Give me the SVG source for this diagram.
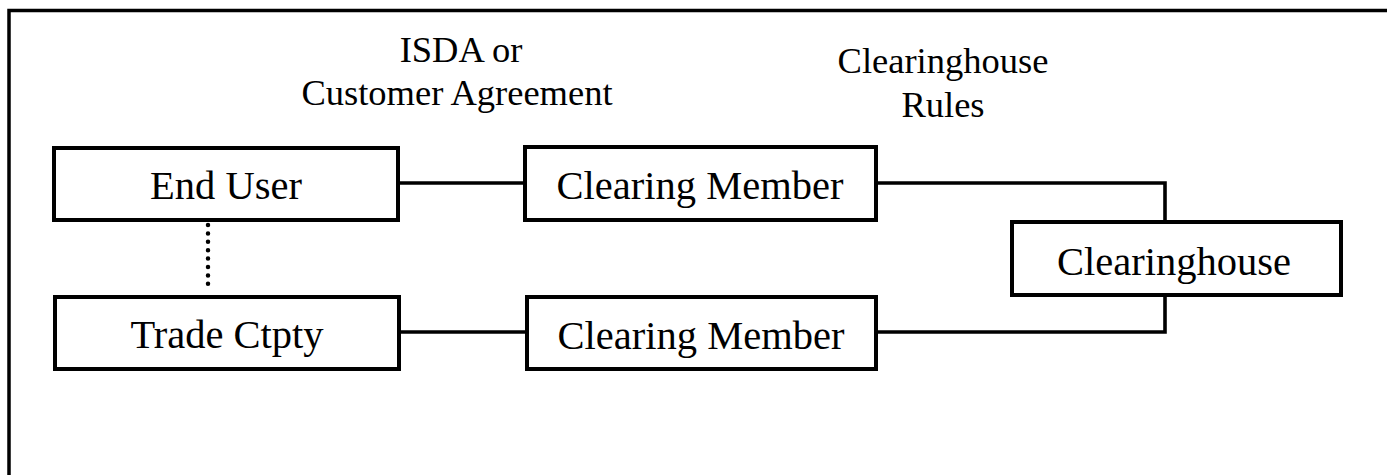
<svg xmlns="http://www.w3.org/2000/svg" width="1387" height="475" viewBox="0 0 1387 475">
<style>
.box{fill:#fff;stroke:#000;stroke-width:4}
.lbl{font-family:"Liberation Serif","Times New Roman",serif;font-size:40.5px;text-anchor:middle;fill:#000}
.note{font-family:"Liberation Serif","Times New Roman",serif;font-size:36.5px;text-anchor:middle;fill:#000}
.wire{fill:none;stroke:#000;stroke-width:3.6}
.dot{fill:none;stroke:#000;stroke-width:4.5;stroke-linecap:round;stroke-dasharray:0 8.4}
</style>
<rect width="1387" height="475" fill="#fff"/>
<g id="frame">
<path d="M9 475 V10.5 H1387" fill="none" stroke="#000" stroke-width="3.5"/>
</g>
<g id="notes">
<text class="note" x="461" y="62">ISDA or</text>
<text class="note" x="457" y="105">Customer Agreement</text>
<text class="note" x="943" y="73">Clearinghouse</text>
<text class="note" x="943" y="117">Rules</text>
</g>
<g id="connectors">
<line class="wire" x1="398" y1="183" x2="525" y2="183"/>
<path class="wire" d="M876 183 H1165 V222"/>
<path class="wire" d="M1165 295 V332 H876"/>
<line class="wire" x1="399" y1="332" x2="527" y2="332"/>
<line class="dot" x1="208" y1="225" x2="208" y2="292"/>
</g>
<g id="end-user">
<rect class="box" x="54" y="148" width="344" height="72"/>
<text class="lbl" x="226" y="199">End User</text>
</g>
<g id="trade-ctpty">
<rect class="box" x="55" y="297" width="344" height="72"/>
<text class="lbl" x="227" y="348">Trade Ctpty</text>
</g>
<g id="clearing-member-top">
<rect class="box" x="525" y="147" width="351" height="73"/>
<text class="lbl" x="700" y="199">Clearing Member</text>
</g>
<g id="clearing-member-bottom">
<rect class="box" x="527" y="297" width="349" height="72"/>
<text class="lbl" x="701" y="349">Clearing Member</text>
</g>
<g id="clearinghouse">
<rect class="box" x="1012" y="222" width="329" height="73"/>
<text class="lbl" x="1174" y="275">Clearinghouse</text>
</g>
</svg>
